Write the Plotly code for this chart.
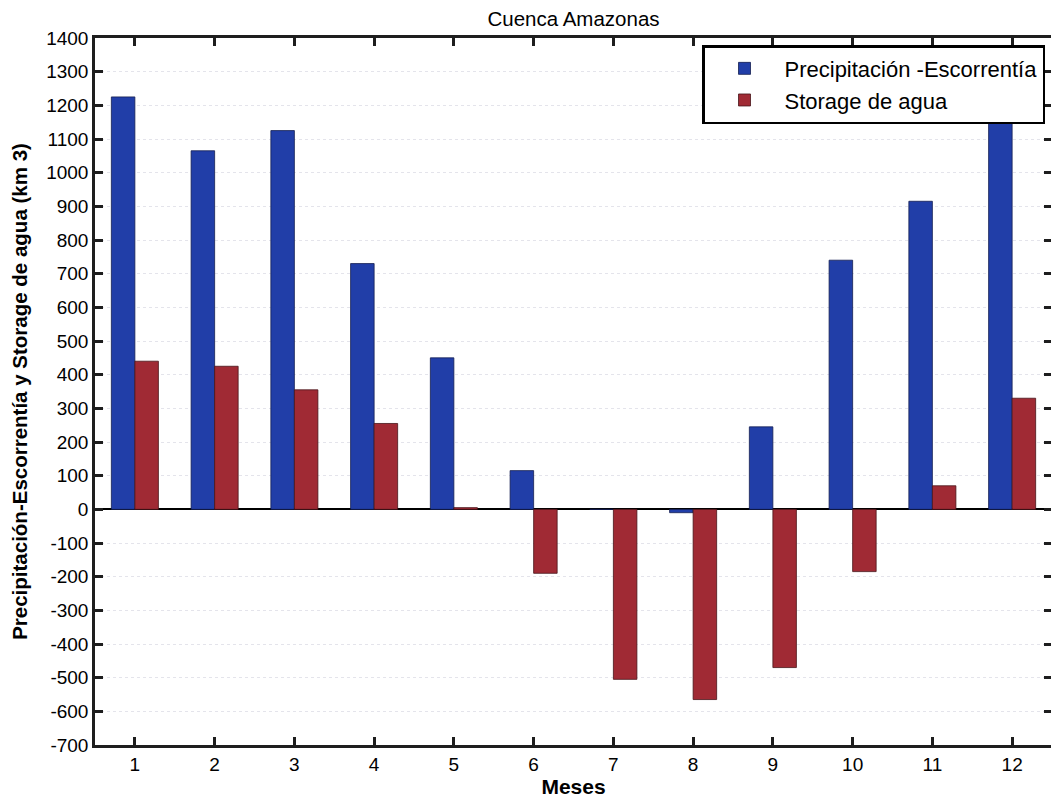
import plotly.graph_objects as go

months = [1, 2, 3, 4, 5, 6, 7, 8, 9, 10, 11, 12]
precip_escorrentia = [1225, 1065, 1125, 730, 450, 115, 0, -10, 245, 740, 915, 1155]
storage_agua = [440, 425, 355, 255, 5, -190, -505, -565, -470, -185, 70, 330]
y_ticks = list(range(-700, 1401, 100))

FONT = "Arial, Liberation Sans, Helvetica, sans-serif"

fig = go.Figure()
fig.add_trace(go.Bar(x=months, y=precip_escorrentia, name="Precipitación -Escorrentía",
                     marker=dict(color="rgb(33,62,168)", line=dict(color="rgb(20,30,80)", width=0.8))))
fig.add_trace(go.Bar(x=months, y=storage_agua, name="Storage de agua",
                     marker=dict(color="rgb(160,42,52)", line=dict(color="rgb(70,20,25)", width=0.8))))

axis_font = dict(family=FONT, size=19, color="black")
fig.update_layout(
    width=1051, height=790,
    barmode="group", bargap=0.41, bargroupgap=0,
    plot_bgcolor="white", paper_bgcolor="white",
    margin=dict(l=87, r=7, t=30, b=53, autoexpand=False),
    title=dict(text="Cuenca Amazonas", x=0.5, xref="paper", xanchor="center",
               y=0.986, yref="container", yanchor="middle",
               font=dict(family=FONT, size=20.5, color="black")),
    font=axis_font,
    legend=dict(x=0.9927, y=0.99, xanchor="right", yanchor="top",
                bgcolor="white", bordercolor="black", borderwidth=2.5,
                font=dict(family=FONT, size=22, color="black"),
                tracegroupgap=0, itemwidth=70),
    showlegend=True,
)
fig.update_xaxes(range=[0.5, 12.5], tickmode="array", tickvals=months, ticktext=[str(m) for m in months],
                 ticks="inside", ticklen=8, tickwidth=2.5, tickcolor="rgb(30,30,30)",
                 showline=True, linecolor="rgb(30,30,30)", linewidth=2.5, mirror="ticks",
                 showgrid=False, zeroline=False, automargin=False,
                 title=dict(text="<b>Meses</b>", font=dict(size=21, family=FONT), standoff=6),
                 tickfont=axis_font)
fig.update_yaxes(range=[-700, 1400], tickmode="array", tickvals=y_ticks, ticktext=[str(v) for v in y_ticks],
                 ticks="inside", ticklen=8, tickwidth=2.5, tickcolor="rgb(30,30,30)",
                 showline=True, linecolor="rgb(30,30,30)", linewidth=2.5, mirror="ticks",
                 showgrid=True, gridcolor="rgb(228,228,235)", griddash="dot", gridwidth=1,
                 zeroline=True, zerolinecolor="black", zerolinewidth=1.8, automargin=False,
                 title=dict(text="<b>Precipitación-Escorrentía y Storage de agua (km 3)</b>",
                            font=dict(size=20.5, family=FONT), standoff=18),
                 tickfont=axis_font)

fig.write_html("out.html")
